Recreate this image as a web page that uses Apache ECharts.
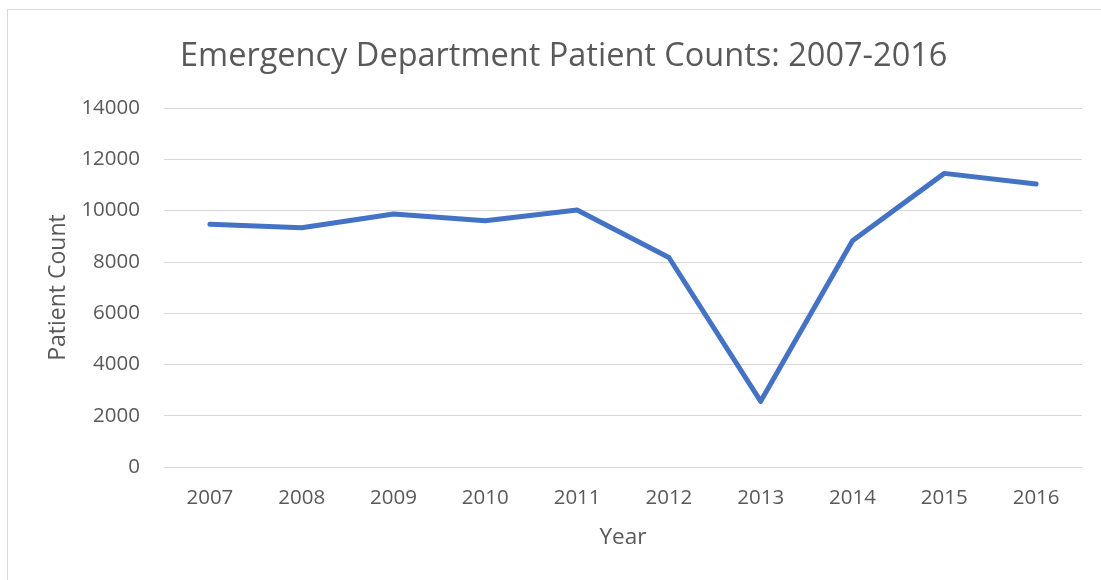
<!DOCTYPE html>
<html>
<head>
<meta charset="utf-8">
<script src="https://cdn.jsdelivr.net/npm/echarts@6/dist/echarts.min.js"></script>
<style>
  html, body { margin: 0; padding: 0; background: #fff; }
  #frame { position: absolute; left: 7px; top: 9px; width: 1110px; height: 590px; border: 1px solid #d9d9d9; }
  #chart { position: absolute; left: 0; top: 0; width: 1101px; height: 580px; }
</style>
</head>
<body>
<div id="frame"></div>
<div id="chart"></div>
<script>
// years on the x axis
var years = ['2007', '2008', '2009', '2010', '2011', '2012', '2013', '2014', '2015', '2016'];
// patient counts
var patientCounts = [9470, 9330, 9870, 9600, 10020, 8170, 2560, 8820, 11450, 11040];

var textColor = '#595959';
var font = 'Open Sans';

var chart = echarts.init(document.getElementById('chart'));
var option = {
    animation: false,
    title: {
        text: 'Emergency Department Patient Counts: 2007-2016',
        left: 175,
        top: 35,
        textStyle: {
            fontFamily: font,
            fontSize: 32.5,
            fontWeight: 'normal',
            color: textColor
        }
    },
    grid: {
        left: 164,
        right: 19,
        top: 108,
        bottom: 113
    },
    xAxis: {
        type: 'category',
        data: years,
        boundaryGap: true,
        name: 'Year',
        nameLocation: 'middle',
        nameGap: 59,
        nameTextStyle: { fontFamily: font, fontSize: 22.5, color: textColor },
        axisLine: { lineStyle: { color: '#d9d9d9', width: 1 } },
        axisTick: { show: false },
        axisLabel: { fontFamily: font, fontSize: 20.5, color: textColor, margin: 21 }
    },
    yAxis: {
        type: 'value',
        min: 0,
        max: 14000,
        interval: 2000,
        name: 'Patient Count',
        nameLocation: 'middle',
        nameGap: 94,
        nameTextStyle: { fontFamily: font, fontSize: 23, color: textColor },
        axisLine: { show: false },
        axisTick: { show: false },
        axisLabel: {
            fontFamily: font, fontSize: 20.5, color: textColor, margin: 24,
            formatter: function (v) { return String(v); }
        },
        splitLine: { lineStyle: { color: '#d9d9d9', width: 1 } }
    },
    series: [
        {
            name: 'Patient Count',
            type: 'line',
            data: patientCounts,
            symbol: 'none',
            lineStyle: { color: '#4472C4', width: 5, cap: 'round', join: 'round' }
        }
    ]
};
option && chart.setOption(option);
</script>
</body>
</html>
